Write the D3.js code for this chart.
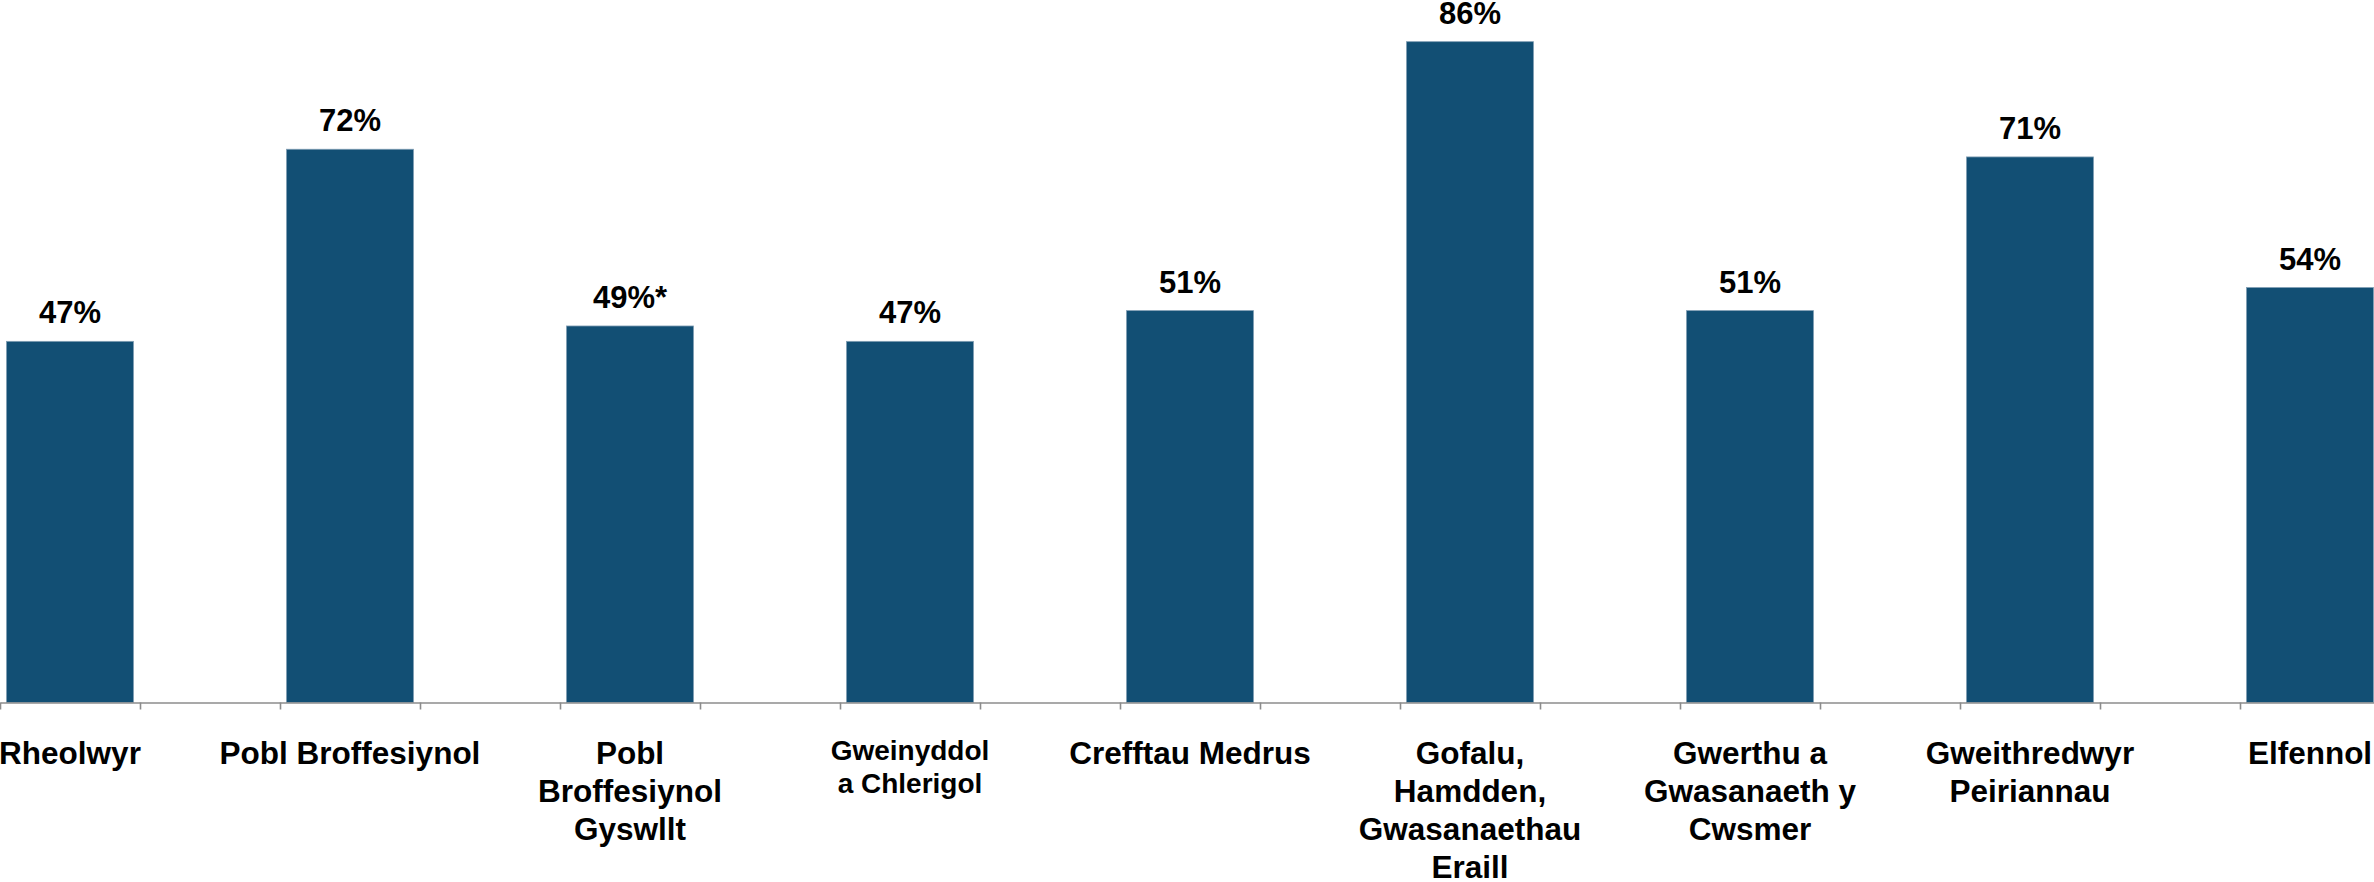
<!DOCTYPE html>
<html>
<head>
<meta charset="utf-8">
<script src="https://cdn.jsdelivr.net/npm/d3@7"></script>
<style>
  body { margin: 0; background: #fff; }
  text { font-family: "Liberation Sans", Arial, sans-serif; font-weight: bold; fill: #000; }
</style>
</head>
<body>
<svg class="chart" width="2374" height="882"></svg>
<script>
// categories (line breaks as in the original)
var categories = [
  "Rheolwyr",
  "Pobl Broffesiynol",
  "Pobl\nBroffesiynol\nGyswllt",
  "Gweinyddol\na Chlerigol",
  "Crefftau Medrus",
  "Gofalu,\nHamdden,\nGwasanaethau\nEraill",
  "Gwerthu a\nGwasanaeth y\nCwsmer",
  "Gweithredwyr\nPeiriannau",
  "Elfennol"
];
var values = [47, 72, 49, 47, 51, 86, 51, 71, 54];
var valueLabels = ["47%", "72%", "49%*", "47%", "51%", "86%", "51%", "71%", "54%"];

var svg = d3.select(".chart"),
    axisY = 702.5;

// each category takes two slots: one with the bar, one empty
var slots = [];
categories.forEach(function(c, i) { slots.push("c" + i, "gap" + i); });

var x = d3.scaleBand()
    .domain(slots)
    .range([0, 2520])
    .paddingInner(0.093)
    .paddingOuter(0.0465);

var y = d3.scaleLinear().domain([0, 100]).range([axisY, axisY - 768.4]);

var slotScale = d3.scaleLinear().domain([0, slots.length]).range([0, 2520]);

// bars
svg.selectAll(".bar")
  .data(values)
  .enter().append("rect")
    .attr("class", "bar")
    .attr("x", function(d, i) { return x("c" + i); })
    .attr("y", function(d) { return y(d); })
    .attr("width", x.bandwidth())
    .attr("height", function(d) { return axisY - y(d); })
    .attr("fill", "#124f74")
    .attr("stroke", "#7f9db3")
    .attr("stroke-width", 0.8);

// x axis with ticks on slot edges
var xAxis = svg.append("g")
    .attr("transform", "translate(0," + axisY + ")")
    .call(d3.axisBottom(slotScale)
      .tickValues(d3.range(0, slots.length + 1))
      .tickSize(7)
      .tickSizeOuter(0)
      .tickFormat(""));
xAxis.select(".domain").attr("stroke", "#8c8c8c").attr("stroke-width", 1.6);
xAxis.selectAll(".tick line").attr("stroke", "#8c8c8c").attr("stroke-width", 1.6);

// value labels
svg.selectAll(".value")
  .data(values)
  .enter().append("text")
    .attr("class", "value")
    .attr("x", function(d, i) { return x("c" + i) + x.bandwidth() / 2; })
    .attr("y", function(d) { return y(d) - 18; })
    .attr("text-anchor", "middle")
    .style("font-size", "31px")
    .text(function(d, i) { return valueLabels[i]; });

// category labels
var cat = svg.selectAll(".cat")
  .data(categories)
  .enter().append("text")
    .attr("class", "cat")
    .attr("text-anchor", "middle")
    .attr("y", function(d, i) { return i == 3 ? axisY + 57.5 : axisY + 61.8; })
    .style("font-size", function(d, i) { return i == 3 ? "28px" : "31.5px"; });

cat.each(function(d, i) {
  var t = d3.select(this),
      cx = x("c" + i) + x.bandwidth() / 2,
      lh = i == 3 ? 33 : 38;
  d.split("\n").forEach(function(line, j) {
    t.append("tspan")
      .attr("x", cx)
      .attr("dy", j == 0 ? 0 : lh)
      .text(line);
  });
});
</script>
</body>
</html>
